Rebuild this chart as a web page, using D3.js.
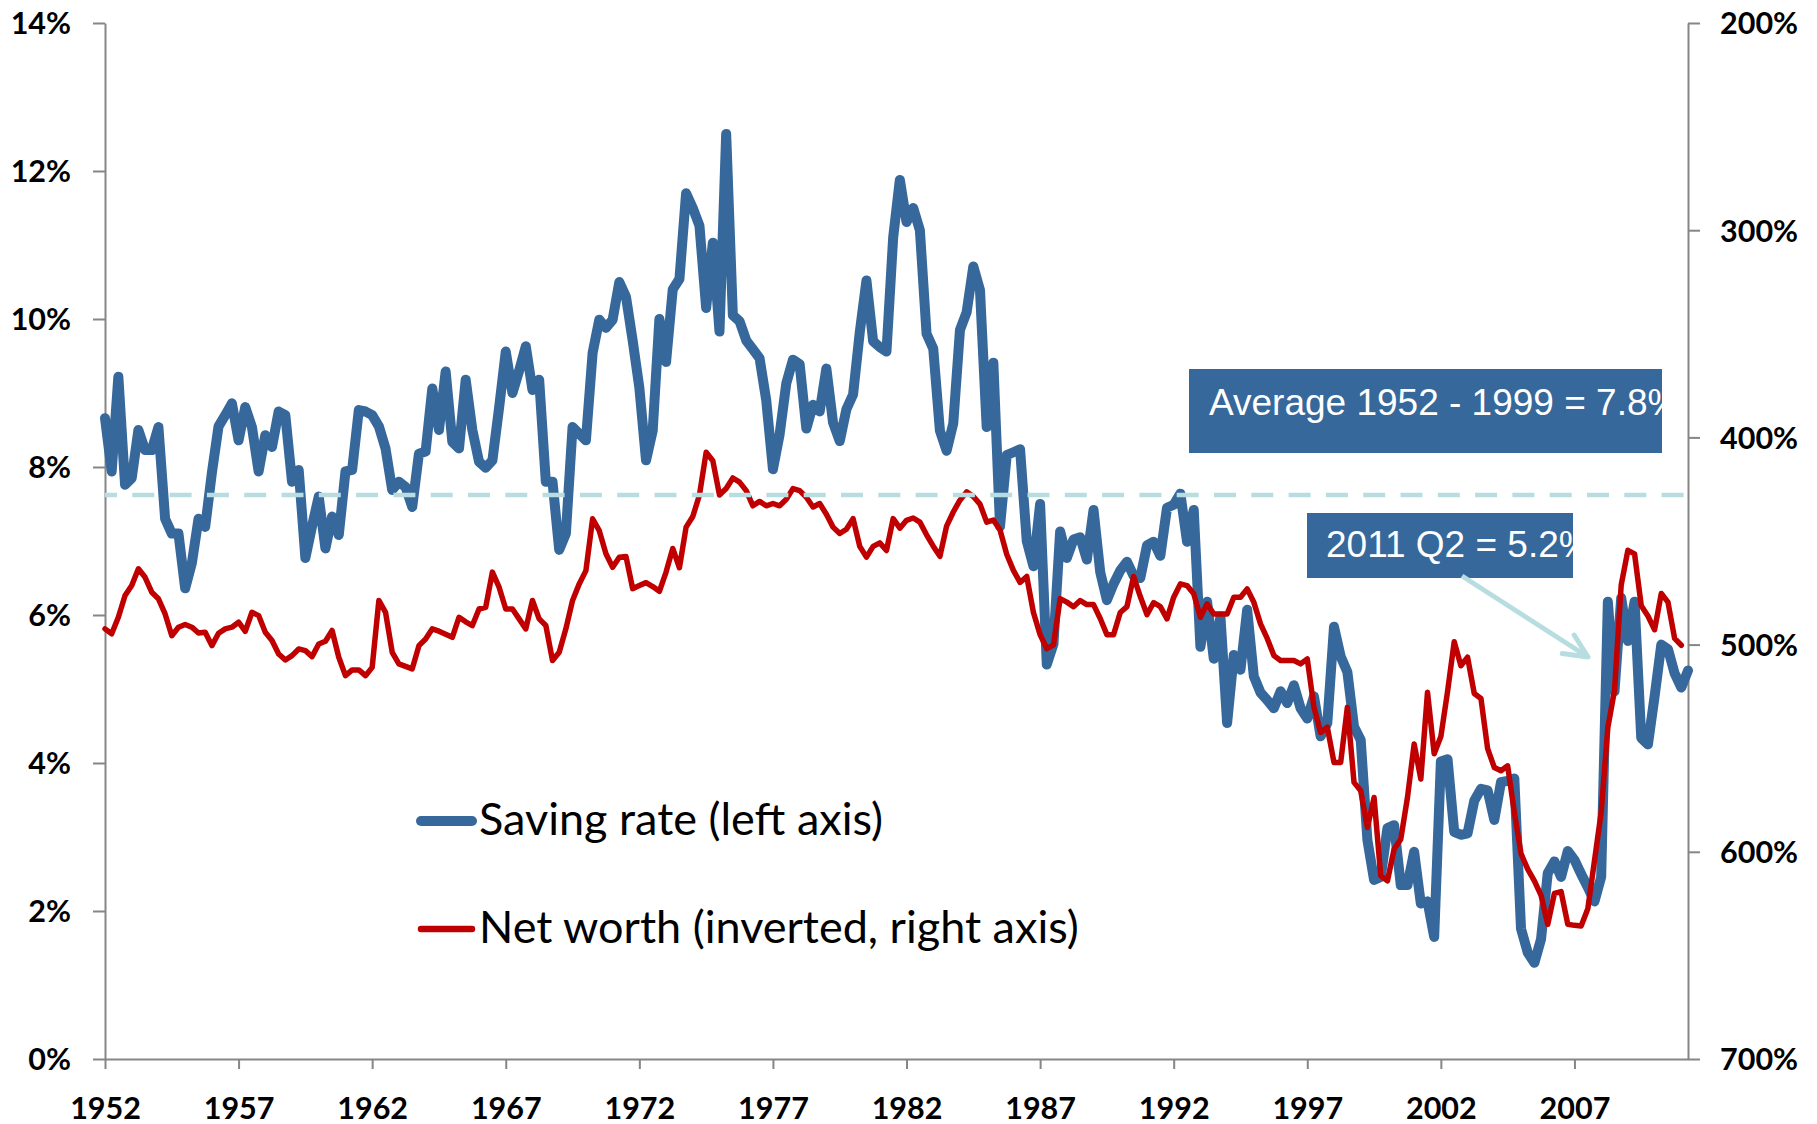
<!DOCTYPE html>
<html>
<head>
<meta charset="utf-8">
<script src="https://cdn.jsdelivr.net/npm/d3@7"></script>
<style>
  html, body { margin:0; padding:0; background:#fff; }
  svg { display:block; }
</style>
</head>
<body>
<div id="chart"></div>
<script>
/* global d3 */

// quarterly data, 1952 Q1 onwards
const startYear = 1952;
const yearLabels = ['1952','1957','1962','1967','1972','1977','1982','1987','1992','1997','2002','2007'];
const leftTicks = [0,2,4,6,8,10,12,14];
const rightTicks = [200,300,400,500,600,700];

// personal saving rate, % of disposable income (left axis)
const savingRate = [
  8.66,7.94,9.22,7.76,7.85,8.5,8.23,8.23,8.54,7.3,7.1,7.1,6.36,6.7,7.3,7.19,
  7.92,8.55,8.7,8.86,8.36,8.81,8.54,7.94,8.43,8.27,8.75,8.7,7.8,7.96,6.77,7.2,
  7.6,6.9,7.33,7.08,7.94,7.96,8.77,8.75,8.7,8.55,8.25,7.69,7.8,7.73,7.46,8.18,
  8.21,9.06,8.5,9.29,8.34,8.25,9.18,8.5,8.07,7.99,8.09,8.8,9.56,9.0,9.3,9.63,
  9.04,9.18,7.8,7.8,6.88,7.1,8.54,8.45,8.36,9.54,9.99,9.88,9.99,10.5,10.3,9.71,
  9.07,8.09,8.49,10.0,9.42,10.4,10.54,11.7,11.5,11.26,10.15,11.03,9.83,12.5,10.05,9.97,
  9.71,9.59,9.47,8.9,7.97,8.44,9.13,9.45,9.39,8.52,8.84,8.75,9.33,8.6,8.35,8.78,
  8.98,9.82,10.52,9.7,9.62,9.56,11.1,11.88,11.31,11.5,11.2,9.8,9.6,8.49,8.22,8.59,
  9.85,10.09,10.71,10.39,8.54,9.41,7.2,8.16,8.2,8.24,7.0,6.66,7.5,5.33,5.61,7.13,
  6.77,7.02,7.05,6.75,7.42,6.58,6.2,6.42,6.6,6.72,6.53,6.5,6.94,6.99,6.8,7.45,
  7.49,7.64,6.99,7.42,5.57,6.18,5.41,5.98,4.54,5.46,5.26,6.07,5.17,4.95,4.85,4.74,
  4.97,4.81,5.05,4.74,4.6,4.9,4.36,4.54,5.84,5.44,5.23,4.49,4.31,2.96,2.42,2.46,
  3.12,3.16,2.35,2.35,2.8,2.1,2.13,1.65,4.02,4.05,3.07,3.03,3.05,3.49,3.65,3.63,
  3.23,3.74,3.76,3.79,1.76,1.44,1.3,1.62,2.51,2.67,2.46,2.81,2.69,2.5,2.32,2.13,
  2.46,6.18,4.97,6.23,5.65,6.18,4.34,4.25,4.9,5.6,5.54,5.21,5.02,5.25
];

// household net worth, % of disposable income (right axis, inverted)
const netWorth = [
  492.4,494.8,486.8,476.3,471.5,463.4,467.5,474.7,477.9,485.2,495.7,491.6,490.3,491.6,494.4,494,
  500.5,494.5,492.4,491.6,489.2,493.6,484.4,486,494,498,504.5,507.4,505.3,502.1,502.9,505.8,
  499.7,498.4,493.2,506.1,515,512.2,512.2,515,511,478.7,484.4,503.7,509.3,510.5,511.7,500.5,
  497.3,492.4,493.5,495,496.5,486.8,489,490.8,482.8,482,465,472.3,482.8,482.8,487.6,492.4,
  478.7,487.6,490.8,507.7,503.7,492.4,478.7,470.7,464.3,439.3,445,456.2,462.7,457.8,457.5,473,
  471.5,470.1,472,474.3,465,453.6,462.9,443.3,438.2,427.8,407.2,411.3,427.8,424.7,419.6,421.6,
  425.7,433,430.9,433,431.9,433,429.9,424.7,425.7,428.9,433.6,431.9,437.1,443.3,446.4,444.3,
  439.2,452.6,457.8,452.6,450.9,454.6,439.2,443.8,440,438.9,440.9,447,452.5,457.4,442.8,436,
  430.3,426.3,428.5,432.2,440.9,439.9,444.7,456.4,464.2,470,467.1,484.5,495.2,502,500.1,477.8,
  479.5,481.7,478.7,480.7,480.7,487.4,495.2,495.2,484.5,481.7,467.1,476.8,485.5,479.7,481.7,487.6,
  477.1,470.7,471.5,475.5,486.8,480.3,485.2,485.2,485.2,477.1,477.1,473.1,479.6,490,497,505.3,
  507.7,507.7,507.7,509.3,506.9,530.3,542.4,539.9,556.9,556.9,530.3,566.5,570.5,588.3,573.8,611.6,
  614,598.7,593.9,573.8,548,564.9,523,552.7,544.4,522.7,498.6,510.2,506.1,523.6,526,550.2,
  559.3,560.9,558.5,581,600.9,608.4,614,621,635,620.1,619.2,635,635.5,635.8,627.5,604.3,
  581,540,522,471.2,454.5,456.2,481.2,486.2,492.8,475.3,479.5,497,500.3
];

const averageRate = 7.62;
const averageLabel = 'Average 1952 - 1999 = 7.8%';
const latestLabel = '2011 Q2 = 5.2%';
const legendLabels = ['Saving rate (left axis)', 'Net worth (inverted, right axis)'];

const blue = '#36689b', red = '#c00000', teal = '#b7dde1', axisGrey = '#868686';

function drawChart() {
  const width = 1817, height = 1124;
  const svg = d3.select('#chart').append('svg')
    .attr('width', width)
    .attr('height', height);

  const x = d3.scaleLinear().domain([0, 237]).range([105, 1688]);
  const yL = d3.scaleLinear().domain([0, 14]).range([1059, 23]);
  const yR = d3.scaleLinear().domain([200, 700]).range([23, 1059]);

  // axes
  const axL = svg.append('g').attr('transform', `translate(${x(0)},0)`)
    .call(d3.axisLeft(yL).tickValues(leftTicks).tickFormat(d => d + '%')
      .tickSize(12).tickSizeOuter(0).tickPadding(22));
  const axR = svg.append('g').attr('transform', `translate(${x(237)},0)`)
    .call(d3.axisRight(yR).tickValues(rightTicks).tickFormat(d => d + '%')
      .tickSize(12).tickSizeOuter(0).tickPadding(20));
  const axB = svg.append('g').attr('transform', `translate(0,${yL(0)})`)
    .call(d3.axisBottom(x).tickValues(yearLabels.map((d, i) => i * 20))
      .tickFormat((d, i) => yearLabels[i])
      .tickSize(10).tickSizeOuter(0).tickPadding(28));

  [axL, axR, axB].forEach(g => {
    g.selectAll('path.domain').attr('stroke', axisGrey).attr('stroke-width', 2);
    g.selectAll('.tick line').attr('stroke', axisGrey).attr('stroke-width', 2);
    g.selectAll('.tick text')
      .attr('fill', '#000')
      .style('font-family', 'Lato, "DejaVu Sans", sans-serif')
      .style('font-weight', 700)
      .style('font-size', '30.5px');
  });
  axL.selectAll('.tick text').attr('dy', '0.36em');
  axR.selectAll('.tick text').attr('dy', '0.36em');

  // series
  const lineL = d3.line().x((d, i) => x(i)).y(d => yL(d));
  const lineR = d3.line().x((d, i) => x(i)).y(d => yR(d));

  svg.append('path').datum(savingRate)
    .attr('d', lineL)
    .attr('fill', 'none').attr('stroke', blue).attr('stroke-width', 10)
    .attr('stroke-linejoin', 'round').attr('stroke-linecap', 'round');

  svg.append('path').datum(netWorth)
    .attr('d', lineR)
    .attr('fill', 'none').attr('stroke', red).attr('stroke-width', 5.5)
    .attr('stroke-linejoin', 'round').attr('stroke-linecap', 'round');

  // average line
  svg.append('line')
    .attr('x1', x(0)).attr('x2', x(237) + 9)
    .attr('y1', yL(averageRate)).attr('y2', yL(averageRate))
    .attr('stroke', teal).attr('stroke-width', 4.5)
    .attr('stroke-dasharray', '22,15.3').attr('stroke-dashoffset', 10);

  // annotation boxes
  const boxes = [
    {id: 'clipAvg', x: 1189, y: 369, w: 473, h: 84, text: averageLabel, tx: 1209, ty: 415},
    {id: 'clipLast', x: 1307, y: 513, w: 266, h: 65, text: latestLabel, tx: 1326, ty: 557}
  ];
  const defs = svg.append('defs');
  boxes.forEach(b => {
    defs.append('clipPath').attr('id', b.id)
      .append('rect').attr('x', b.x).attr('y', b.y).attr('width', b.w).attr('height', b.h);
    svg.append('rect').attr('x', b.x).attr('y', b.y).attr('width', b.w).attr('height', b.h)
      .attr('fill', blue);
    svg.append('text').attr('x', b.tx).attr('y', b.ty)
      .attr('clip-path', `url(#${b.id})`)
      .attr('fill', '#fff')
      .style('font-family', '"Liberation Sans", Arial, sans-serif')
      .style('font-size', '37px')
      .text(b.text);
  });

  // arrow to the latest value
  const tail = [1462, 576], tip = [1588, 657];
  const ang = Math.atan2(tail[1] - tip[1], tail[0] - tip[0]);
  const arm = 26, spread = 25 * Math.PI / 180;
  svg.append('line')
    .attr('x1', tail[0]).attr('y1', tail[1]).attr('x2', tip[0]).attr('y2', tip[1])
    .attr('stroke', teal).attr('stroke-width', 5);
  svg.append('path')
    .attr('d', `M${tip[0] + arm * Math.cos(ang + spread)},${tip[1] + arm * Math.sin(ang + spread)}` +
      `L${tip[0]},${tip[1]}` +
      `L${tip[0] + arm * Math.cos(ang - spread)},${tip[1] + arm * Math.sin(ang - spread)}`)
    .attr('fill', 'none').attr('stroke', teal).attr('stroke-width', 5)
    .attr('stroke-linecap', 'round').attr('stroke-linejoin', 'round');

  // legend
  const legend = svg.append('g');
  const legendRows = [
    {label: legendLabels[0], color: blue, w: 10, y: 821},
    {label: legendLabels[1], color: red, w: 6.5, y: 929}
  ];
  legendRows.forEach(r => {
    legend.append('line')
      .attr('x1', 421).attr('x2', 472).attr('y1', r.y).attr('y2', r.y)
      .attr('stroke', r.color).attr('stroke-width', r.w).attr('stroke-linecap', 'round');
    legend.append('text')
      .attr('x', 479).attr('y', r.y + 14)
      .attr('fill', '#000')
      .style('font-family', 'Lato, "DejaVu Sans", sans-serif')
      .style('font-size', '45px')
      .text(r.label);
  });
}

drawChart();
</script>
</body>
</html>
